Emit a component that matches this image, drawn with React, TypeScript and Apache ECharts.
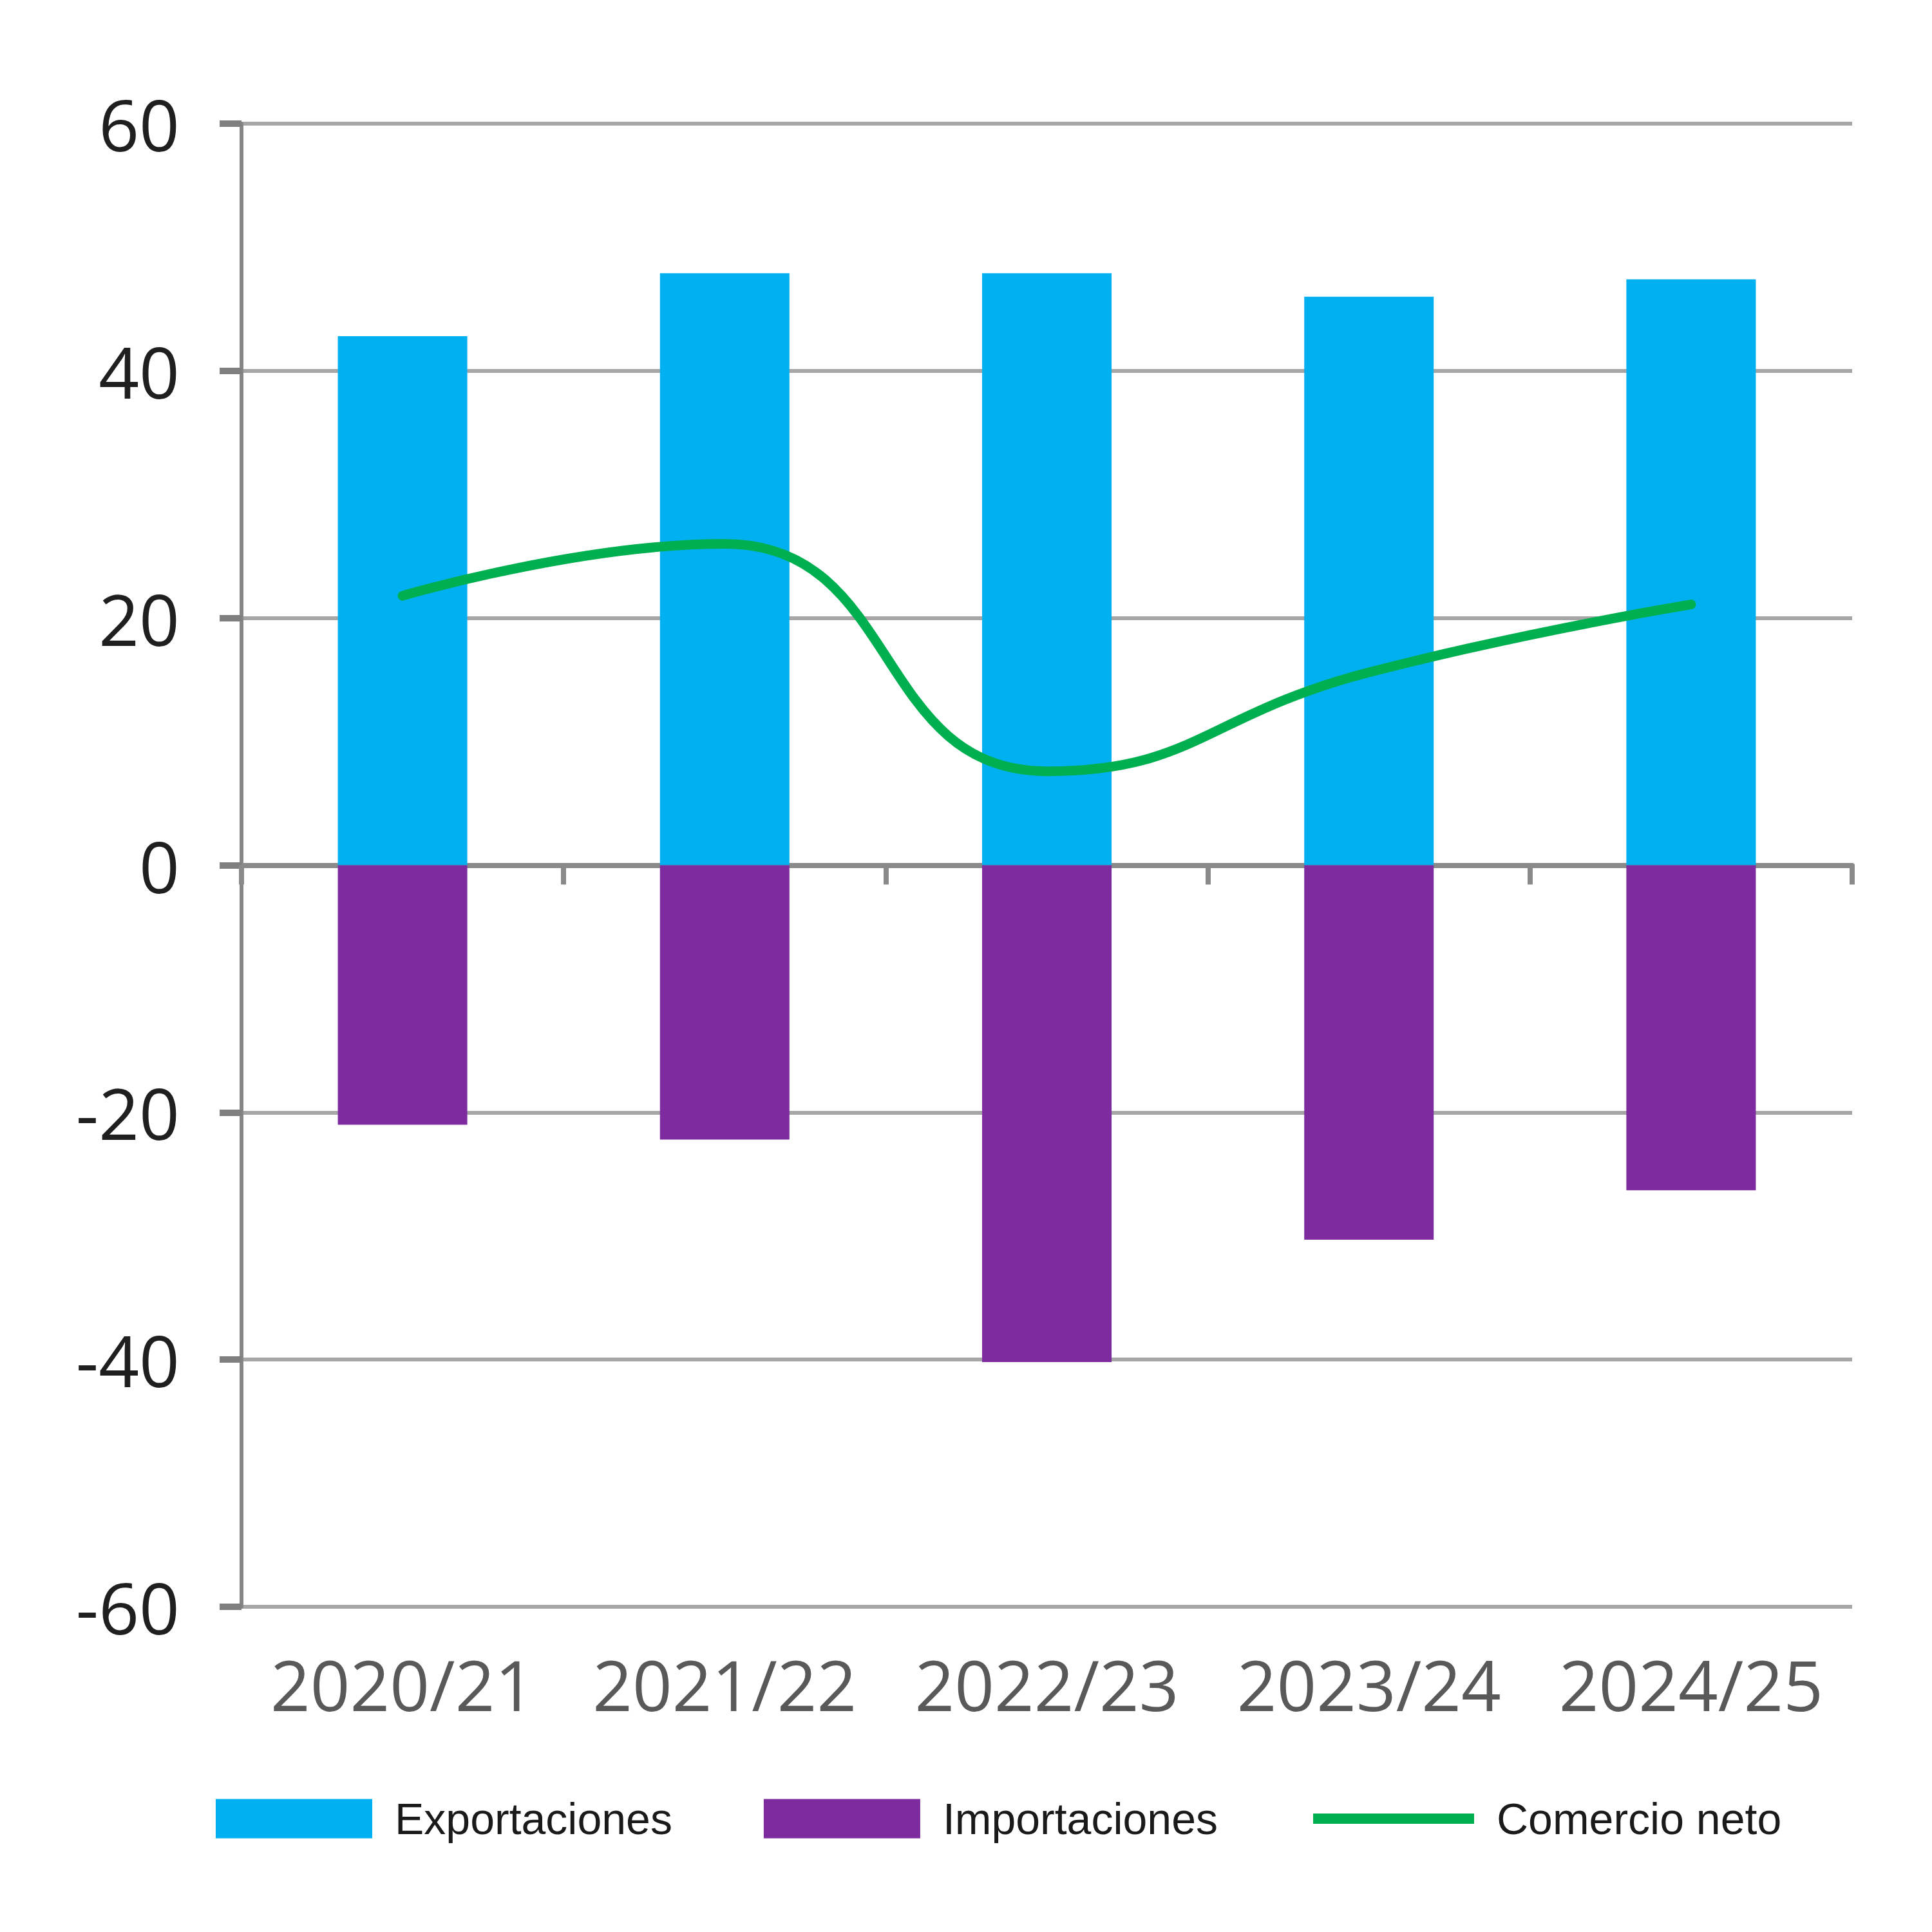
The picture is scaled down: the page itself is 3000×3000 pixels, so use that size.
import React, { useEffect, useRef } from "react";
import * as echarts from "echarts";

// Seasons on the category axis
const seasons = ["2020/21", "2021/22", "2022/23", "2023/24", "2024/25"];
// Trade volumes per season
const exportaciones = [42.8, 47.9, 47.9, 46.0, 47.4];
const importaciones = [-21.0, -22.2, -40.2, -30.3, -26.3];
const comercioNeto = [21.8, 26.0, 7.6, 15.6, 21.1];
// Value axis range
const yMin = -60;
const yMax = 60;
const yStep = 20;

const COLOR_EXP = "#00b0f0";
const COLOR_IMP = "#7f2ba0";
const COLOR_NET = "#00b050";
const FONT = "'Open Sans', sans-serif";

const legendText = {
  fontFamily: "'Liberation Sans', Arial, sans-serif",
  fontSize: 68,
  color: "#1a1a1a",
  padding: [0, 0, 0, 30],
};

export default function App() {
  const ref = useRef<HTMLDivElement>(null);

  useEffect(() => {
    if (!ref.current) return;
    const chart = echarts.init(ref.current, null, { renderer: "svg" });
    chart.setOption({
      animation: false,
      backgroundColor: "#ffffff",
      grid: { left: 375, right: 124, top: 192, bottom: 505 },
      legend: [
        {
          left: 335,
          top: 2790,
          padding: 0,
          itemWidth: 243,
          itemHeight: 61,
          itemGap: 142,
          textStyle: legendText,
          data: [
            { name: "Exportaciones", icon: "rect" },
            { name: "Importaciones", icon: "rect" },
          ],
        },
        {
          left: 2039,
          top: 2790,
          padding: 0,
          itemWidth: 250,
          itemHeight: 61,
          textStyle: legendText,
          data: [
            { name: "Comercio neto", icon: "path://M0,0H250V16H0Z", itemStyle: { color: COLOR_NET } },
          ],
        },
      ],
      xAxis: [
        {
          // zero line with boundary ticks
          type: "category",
          data: seasons,
          position: "top",
          boundaryGap: true,
          axisLine: { show: true, onZero: true, lineStyle: { color: "#8a8a8a", width: 8 } },
          axisTick: { show: true, inside: true, length: 30, lineStyle: { color: "#8a8a8a", width: 8 } },
          axisLabel: { show: false },
          splitLine: { show: false },
        },
        {
          // season labels under the plot
          type: "category",
          data: seasons,
          position: "bottom",
          boundaryGap: true,
          axisLine: { show: false, onZero: false },
          axisTick: { show: false },
          axisLabel: { show: true, interval: 0, margin: 66, fontFamily: FONT, fontSize: 108, color: "#595959" },
          splitLine: { show: false },
        },
      ],
      yAxis: {
        type: "value",
        min: yMin,
        max: yMax,
        interval: yStep,
        axisLine: { show: true, onZero: false, lineStyle: { color: "#868686", width: 6 } },
        axisTick: { show: true, length: 34, lineStyle: { color: "#7f7f7f", width: 10 } },
        axisLabel: { margin: 96, fontFamily: FONT, fontSize: 110, color: "#1f1f1f" },
        splitLine: { show: true, lineStyle: { color: "#a6a6a6", width: 6 } },
      },
      series: [
        {
          name: "Exportaciones",
          type: "bar",
          xAxisIndex: 1,
          data: exportaciones,
          barWidth: 201,
          barGap: "-100%",
          itemStyle: { color: COLOR_EXP },
        },
        {
          name: "Importaciones",
          type: "bar",
          xAxisIndex: 1,
          data: importaciones,
          barWidth: 201,
          barGap: "-100%",
          itemStyle: { color: COLOR_IMP },
        },
        {
          name: "Comercio neto",
          type: "line",
          xAxisIndex: 1,
          data: comercioNeto,
          smooth: 0.5,
          symbol: "none",
          lineStyle: { color: COLOR_NET, width: 15, cap: "round" },
          itemStyle: { color: COLOR_NET },
          z: 5,
        },
      ],
    });
    return () => chart.dispose();
  }, []);

  return (
    <div
      ref={ref}
      style={{ position: "fixed", left: 0, top: 0, width: 3000, height: 3000 }}
    />
  );
}
